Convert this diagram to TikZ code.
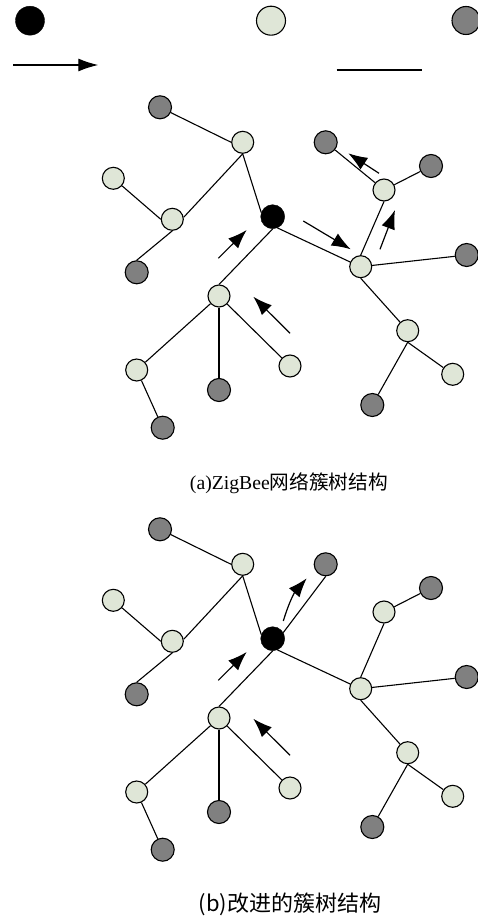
\documentclass[tikz,border=0pt]{standalone}
\usepackage{fontspec}
\setmainfont{Liberation Serif}
\newfontfamily\cjk{Noto Sans CJK SC}
\usetikzlibrary{arrows.meta}
\definecolor{lightnode}{RGB}{223,230,215}
\definecolor{darknode}{RGB}{128,128,128}
\tikzset{
  base/.style={circle,draw=black,line width=1.1pt,inner sep=0pt,minimum size=22pt},
  lt/.style={base,fill=lightnode},
  dk/.style={base,fill=darknode,minimum size=23pt},
  rootnode/.style={circle,fill=black,draw=black,inner sep=0pt,minimum size=24pt},
  edge/.style={line width=1.1pt},
  flow/.style={line width=1.2pt,-{Latex[length=19pt,width=14pt]}},
}
\newcommand\mytree[1]{%
  \node[dk] (#1G1) at (160,107.3) {};
  \node[lt] (#1L1) at (242.7,142.3) {};
  \node[lt] (#1L2) at (113.3,178.3) {};
  \node[lt] (#1L3) at (172.3,219.3) {};
  \node[dk] (#1G2) at (136.7,272.3) {};
  \node[rootnode] (#1R) at (272.7,216.7) {};
  \node[lt] (#1L4) at (219,296) {};
  \node[lt] (#1L5) at (136.7,370) {};
  \node[dk] (#1G3) at (162.7,427.7) {};
  \node[dk] (#1G4) at (219,390) {};
  \node[lt] (#1L6) at (290,366) {};
  \node[lt] (#1L7) at (360.7,266.7) {};
  \node[dk] (#1G5) at (466.7,255) {};
  \node[lt] (#1L8) at (384,190) {};
  \node[dk] (#1G6) at (325.7,142.3) {};
  \node[dk] (#1G7) at (431,166) {};
  \node[lt] (#1L9) at (407.7,330.7) {};
  \node[lt] (#1L10) at (452.7,374.3) {};
  \node[dk] (#1G8) at (372.3,405) {};
  \draw[edge] (#1G1) -- (#1L1.west);
  \draw[edge] (#1L1.south) -- (#1L3.10);
  \draw[edge] (#1L1.south) -- (#1R.160);
  \draw[edge] (#1L2) -- (#1L3.west);
  \draw[edge] (#1L3.south) -- (#1G2.north);
  \draw[edge] (#1R.south) -- (#1L4.north);
  \draw[edge] (#1R.-67) -- (#1L7.156);
  \draw[edge] (#1L4) -- (#1L5);
  \draw[edge] (#1L4.south) -- (#1G4.north);
  \draw[edge] (#1L4) -- (#1L6);
  \draw[edge] (#1L5) -- (#1G3);
  \draw[edge] (#1L7) -- (#1G5);
  \draw[edge] (#1L7.north) -- (#1L8.south);
  \draw[edge] (#1L7.south) -- (#1L9);
  \draw[edge] (#1L8) -- (#1G7);
  \draw[edge] (#1L9.south) -- (#1L10);
  \draw[edge] (#1L9.south) -- (#1G8);
}
\begin{document}
\begin{tikzpicture}[x=1pt,y=-1pt]
\useasboundingbox (0,0) rectangle (478,917);
% legend
\node[rootnode,minimum size=29pt] (legR) at (30,20.7) {};
\node[lt,minimum size=29pt] (legL) at (271,20.7) {};
\node[dk,minimum size=28pt] (legG) at (466,20.5) {};
\coordinate (legA1) at (13.3,65);
\coordinate (legA2) at (98.3,65);
\draw[line width=1.2pt,-{Latex[length=20pt,width=13pt]}] (legA1) -- (legA2);
\coordinate (legE1) at (336.7,70);
\coordinate (legE2) at (422.3,70);
\draw[edge] (legE1) -- (legE2);
% (a)
\mytree{a}
\draw[edge] (aL8) -- (aG6);
\coordinate (aA1s) at (218.3,258.3); \coordinate (aA1e) at (246.7,230);
\coordinate (aA2s) at (290,333.3);   \coordinate (aA2e) at (253.3,296.7);
\coordinate (aA3s) at (303.3,221);   \coordinate (aA3e) at (350.7,249.3);
\coordinate (aA4s) at (380,249.3);   \coordinate (aA4e) at (395,210);
\coordinate (aA5s) at (379,173.3);   \coordinate (aA5e) at (348.3,153.3);
\draw[flow] (aA1s) -- (aA1e);
\draw[flow] (aA2s) -- (aA2e);
\draw[flow] (aA3s) -- (aA3e);
\draw[flow] (aA4s) -- (aA4e);
\draw[flow] (aA5s) -- (aA5e);
\node (capa) at (289,483) {\fontsize{19.7}{24}\selectfont (a)ZigBee{\cjk 网络簇树结构}};
% (b)
\begin{scope}[yshift=-422pt]
\mytree{b}
\draw[edge] (bR.30) -- (bG6.south);
\coordinate (bA1s) at (218.3,258.3); \coordinate (bA1e) at (246.7,230);
\coordinate (bA2s) at (290,333.3);   \coordinate (bA2e) at (253.3,296.7);
\coordinate (bA3s) at (283.3,199);   \coordinate (bA3e) at (306.7,156.3);
\draw[flow] (bA1s) -- (bA1e);
\draw[flow] (bA2s) -- (bA2e);
\draw[flow] (bA3s) to[bend left=12] (bA3e);
\end{scope}
\node (capb) at (290,904) {\fontsize{22}{27}\selectfont\cjk (b)改进的簇树结构};
\end{tikzpicture}
\end{document}
